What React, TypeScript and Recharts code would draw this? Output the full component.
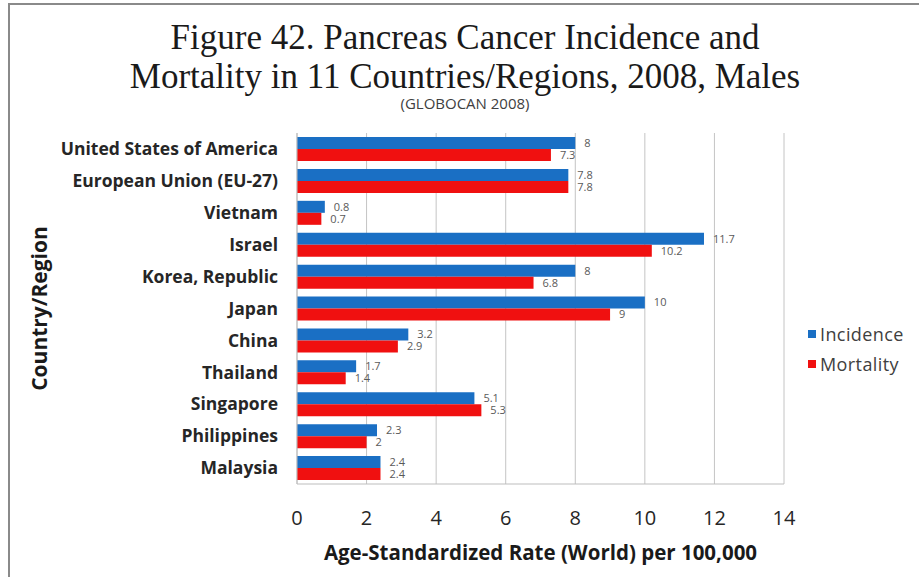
import React from 'react';
import { BarChart, Bar, XAxis, YAxis, CartesianGrid, LabelList, Label } from 'recharts';

const countries = [
  'United States of America',
  'European Union (EU-27)',
  'Vietnam',
  'Israel',
  'Korea, Republic',
  'Japan',
  'China',
  'Thailand',
  'Singapore',
  'Philippines',
  'Malaysia',
];
const incidence = [8, 7.8, 0.8, 11.7, 8, 10, 3.2, 1.7, 5.1, 2.3, 2.4];
const mortality = [7.3, 7.8, 0.7, 10.2, 6.8, 9, 2.9, 1.4, 5.3, 2, 2.4];
const xTicks = [0, 2, 4, 6, 8, 10, 12, 14];

const BLUE = '#1a6fc4';
const RED = '#f01010';
const SANS = '"Open Sans", Lato, sans-serif';

const data = countries.map((name, i) => ({ name, incidence: incidence[i], mortality: mortality[i] }));

function LegendBox() {
  const items = [
    { label: 'Incidence', color: BLUE },
    { label: 'Mortality', color: RED },
  ];
  return (
    <div style={{ position: 'absolute', left: 808, top: 319, fontFamily: SANS, fontSize: 18, letterSpacing: 0.4, color: '#404040' }}>
      {items.map((it) => (
        <div key={it.label} style={{ display: 'flex', alignItems: 'center', height: 30 }}>
          <span style={{ width: 8, height: 8, background: it.color, marginRight: 4 }} />
          {it.label}
        </div>
      ))}
    </div>
  );
}

export default function App() {
  return (
    <div style={{ position: 'fixed', left: 0, top: 0, width: 919, height: 577, background: '#fff', overflow: 'hidden' }}>
      {/* frame left over from the cropped screenshot */}
      <div style={{ position: 'absolute', left: 8, top: 3, right: 0, bottom: 0, borderTop: '2px solid #8a8a8a', borderLeft: '2px solid #8a8a8a' }} />
      <div
        style={{
          position: 'absolute',
          left: 0,
          width: 930,
          top: 18,
          textAlign: 'center',
          fontFamily: '"Liberation Serif", "Times New Roman", serif',
          fontSize: 35,
          lineHeight: '39px',
          color: '#1a1a1a',
        }}
      >
        Figure 42. Pancreas Cancer Incidence and
        <br />
        Mortality in 11 Countries/Regions, 2008, Males
      </div>
      <div style={{ position: 'absolute', left: 0, width: 930, top: 93, textAlign: 'center', fontFamily: SANS, fontSize: 15, color: '#404040' }}>
        (GLOBOCAN 2008)
      </div>
      <div style={{ position: 'absolute', left: 0, top: 0 }}>
        <BarChart
          width={919}
          height={577}
          data={data}
          layout="vertical"
          margin={{ top: 133, right: 135, bottom: 0, left: 0 }}
          barCategoryGap={4}
          barGap={0}
        >
          <CartesianGrid horizontal={false} stroke="#c4c4c4" />
          <XAxis
            type="number"
            domain={[0, 14]}
            ticks={xTicks}
            tickLine={false}
            tickSize={0}
            tickMargin={27}
            axisLine={{ stroke: '#bdbdbd' }}
            tick={{ fontFamily: SANS, fontSize: 20, fill: '#262626' }}
            height={93}
          >
            <Label
              value="Age-Standardized Rate (World) per 100,000"
              position="insideBottom"
              offset={17}
              style={{ fontFamily: SANS, fontSize: 20.5, fontWeight: 700, fill: '#1a1a1a' }}
            />
          </XAxis>
          <YAxis
            type="category"
            dataKey="name"
            width={297}
            tickLine={false}
            tickSize={0}
            tickMargin={19}
            interval={0}
            axisLine={{ stroke: '#bdbdbd' }}
            tick={{ fontFamily: SANS, fontSize: 17.5, fontWeight: 700, fill: '#262626' }}
          >
            <Label
              value="Country/Region"
              angle={-90}
              position="insideLeft"
              offset={40}
              style={{ textAnchor: 'middle', fontFamily: SANS, fontSize: 21, fontWeight: 700, fill: '#1a1a1a' }}
            />
          </YAxis>
          <Bar dataKey="incidence" name="Incidence" fill={BLUE} isAnimationActive={false}>
            <LabelList dataKey="incidence" position="right" offset={9} style={{ fontFamily: SANS, fontSize: 11, fill: '#595959' }} />
          </Bar>
          <Bar dataKey="mortality" name="Mortality" fill={RED} isAnimationActive={false}>
            <LabelList dataKey="mortality" position="right" offset={9} style={{ fontFamily: SANS, fontSize: 11, fill: '#595959' }} />
          </Bar>
        </BarChart>
      </div>
      <LegendBox />
    </div>
  );
}
